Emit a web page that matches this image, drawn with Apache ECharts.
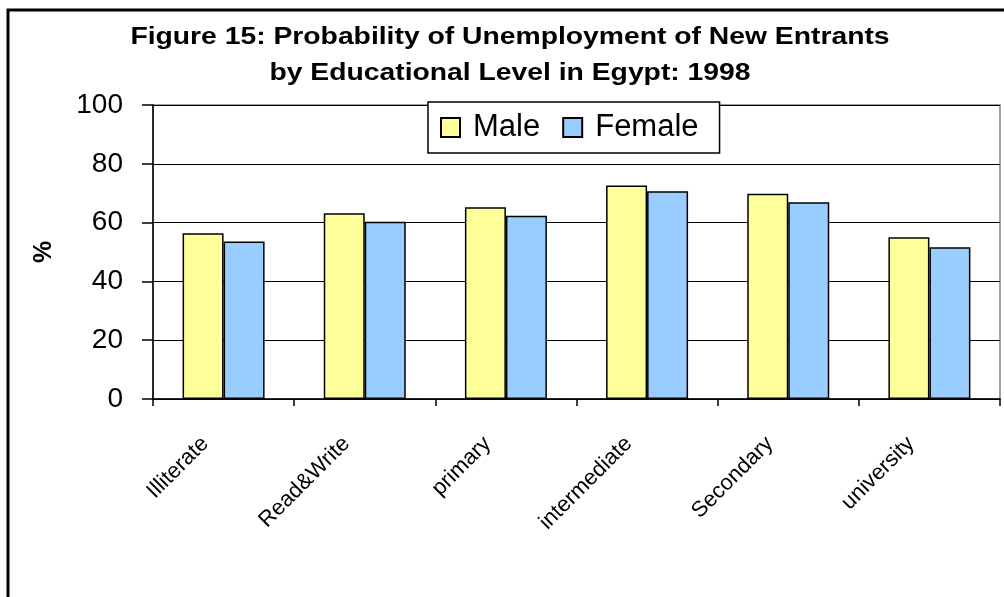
<!DOCTYPE html>
<html>
<head>
<meta charset="utf-8">
<script src="https://cdn.jsdelivr.net/npm/echarts@6/dist/echarts.min.js"></script>
<style>
  html, body { margin: 0; padding: 0; background: #fff; }
  #chart { width: 1004px; height: 597px; }
</style>
</head>
<body>
<div id="chart"></div>
<script>
// education levels
var levels = ['Illiterate', 'Read&Write', 'primary', 'intermediate', 'Secondary', 'university']
// probability of unemployment (%)
var maleValues = [56.4, 63.2, 65.2, 72.6, 69.8, 55.0]
var femaleValues = [53.6, 60.3, 62.3, 70.7, 66.9, 51.6]
var yTicks = [0, 20, 40, 60, 80, 100]
var titleLines = [
  'Figure 15: Probability of Unemployment of New Entrants',
  'by Educational Level in Egypt: 1998'
]

var myChart = echarts.init(document.getElementById('chart'))

var titleFont = 'bold 23px "Liberation Sans", Arial, sans-serif'

var option = {
  animation: false,
  backgroundColor: '#fff',
  textStyle: {
    fontFamily: 'Liberation Sans, Arial, sans-serif',
    color: '#000'
  },
  // 外框 + 标题（标题横向拉宽，和原图一致）
  graphic: [
    {
      type: 'rect',
      shape: { x: 8, y: 10, width: 1100, height: 700 },
      style: { fill: 'none', stroke: '#000', lineWidth: 3 },
      silent: true
    },
    {
      type: 'text',
      x: 510,
      y: 38,
      scaleX: 1.23,
      style: { text: titleLines[0], font: titleFont, fill: '#000', textAlign: 'center', textVerticalAlign: 'middle' }
    },
    {
      type: 'text',
      x: 510,
      y: 74,
      scaleX: 1.23,
      style: { text: titleLines[1], font: titleFont, fill: '#000', textAlign: 'center', textVerticalAlign: 'middle' }
    }
  ],
  legend: {
    left: 428,
    top: 102,
    padding: [10, 21, 10, 12],
    itemGap: 22,
    itemWidth: 19,
    itemHeight: 19,
    icon: 'rect',
    backgroundColor: '#fff',
    borderColor: '#000',
    borderWidth: 1.5,
    textStyle: { fontSize: 31, color: '#000', padding: [0, 0, 0, 8] },
    data: ['Male', 'Female']
  },
  grid: {
    left: 153,
    top: 105,
    right: 4,
    bottom: 198,
    show: true,
    borderColor: '#808080',
    borderWidth: 1.5,
    containLabel: false
  },
  xAxis: {
    type: 'category',
    data: levels,
    axisLine: { lineStyle: { color: '#000', width: 1.5 } },
    axisTick: { show: true, length: 7, lineStyle: { color: '#000', width: 1.5 } },
    axisLabel: {
      rotate: 45,
      fontSize: 22,
      color: '#000',
      margin: 23,
      padding: [0, 26, 0, 0],
      interval: 0
    }
  },
  yAxis: {
    type: 'value',
    min: yTicks[0],
    max: yTicks[yTicks.length - 1],
    interval: yTicks[1] - yTicks[0],
    name: '%',
    nameLocation: 'middle',
    nameRotate: 90,
    nameGap: 96,
    nameTextStyle: { fontSize: 25, fontWeight: 'bold', color: '#000' },
    axisLine: { show: true, lineStyle: { color: '#000', width: 1.5 } },
    axisTick: { show: true, length: 11, lineStyle: { color: '#000', width: 1.5 } },
    axisLabel: { fontSize: 28, color: '#000', margin: 30 },
    splitLine: { show: true, lineStyle: { color: '#000', width: 1.2 } }
  },
  series: [
    {
      name: 'Male',
      type: 'bar',
      data: maleValues,
      barWidth: 41,
      barGap: '0%',
      itemStyle: { color: '#FFFF99', borderColor: '#000', borderWidth: 1.5 }
    },
    {
      name: 'Female',
      type: 'bar',
      data: femaleValues,
      barWidth: 41,
      barGap: '0%',
      itemStyle: { color: '#99CCFF', borderColor: '#000', borderWidth: 1.5 }
    }
  ]
}

myChart.setOption(option)
</script>
</body>
</html>
